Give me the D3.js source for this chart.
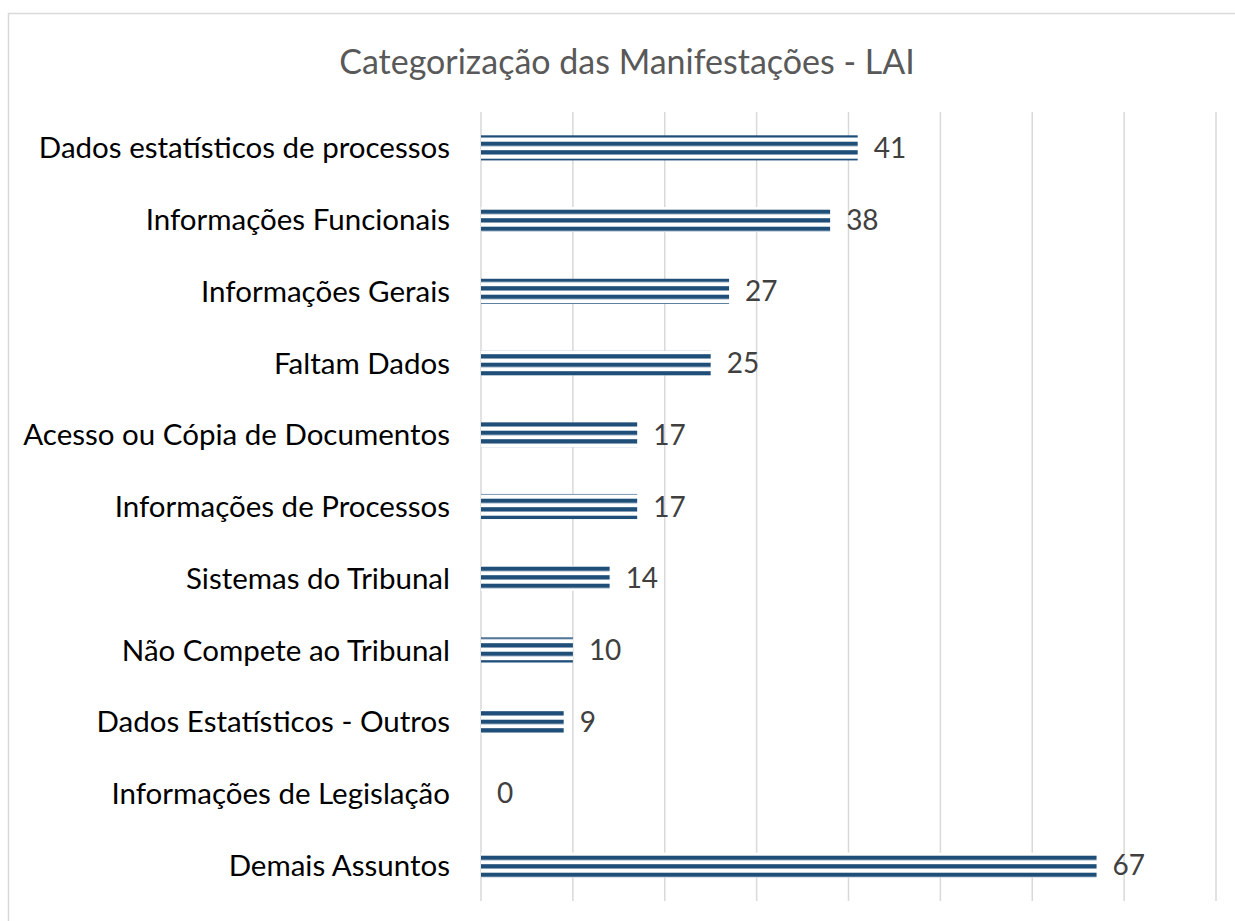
<!DOCTYPE html>
<html>
<head>
<meta charset="utf-8">
<script src="https://cdn.jsdelivr.net/npm/d3@7/dist/d3.min.js"></script>
<style>
  html, body { margin: 0; padding: 0; background: #fff; }
  svg { display: block; }
</style>
</head>
<body>
<script>
const title = "Categorização das Manifestações - LAI";
const categories = [
  "Dados estatísticos de processos",
  "Informações Funcionais",
  "Informações Gerais",
  "Faltam Dados",
  "Acesso ou Cópia de Documentos",
  "Informações de Processos",
  "Sistemas do Tribunal",
  "Não Compete ao Tribunal",
  "Dados Estatísticos - Outros",
  "Informações de Legislação",
  "Demais Assuntos"
];
const values = [41, 38, 27, 25, 17, 17, 14, 10, 9, 0, 67];
const xTicks = [0, 10, 20, 30, 40, 50, 60, 70, 80];

const W = 1235, H = 921;
const FONT = "Lato, 'Open Sans', sans-serif";
const svg = d3.select("body").append("svg").attr("width", W).attr("height", H);

// striped pattern
const defs = svg.append("defs");
const pat = defs.append("pattern")
  .attr("id", "stripes")
  .attr("patternUnits", "userSpaceOnUse")
  .attr("x", 0).attr("y", 141.7 % 8.5)
  .attr("width", 20).attr("height", 8.5);
pat.append("rect").attr("x", 0).attr("y", 0).attr("width", 20).attr("height", 8.5).attr("fill", "#ffffff");
pat.append("rect").attr("x", 0).attr("y", 0).attr("width", 20).attr("height", 4.3).attr("fill", "#1f4e79");

// chart border
svg.append("rect")
  .attr("x", 8.5).attr("y", 13.5)
  .attr("width", W + 20).attr("height", H + 20)
  .attr("fill", "#fff").attr("stroke", "#d9d9d9").attr("stroke-width", 1.5);

const x = d3.scaleLinear().domain([0, 80]).range([481, 1216]);
const y = d3.scaleBand().domain(categories).range([112, 901])
  .paddingInner(0.65).paddingOuter(0.325);

// gridlines
svg.append("g").selectAll("line").data(xTicks).join("line")
  .attr("x1", d => x(d)).attr("x2", d => x(d))
  .attr("y1", 112).attr("y2", 901)
  .attr("stroke", "#d9d9d9").attr("stroke-width", 1.5);

// bars
svg.append("g").selectAll("rect").data(values).join("rect")
  .attr("x", x(0))
  .attr("y", (d, i) => y(categories[i]))
  .attr("width", d => x(d) - x(0))
  .attr("height", y.bandwidth())
  .attr("fill", "url(#stripes)");

// value labels
svg.append("g").selectAll("text").data(values).join("text")
  .attr("x", d => x(d) + 16)
  .attr("y", (d, i) => y(categories[i]) + y.bandwidth() / 2)
  .attr("dy", "0.36em")
  .attr("font-family", FONT).attr("font-size", 28)
  .attr("fill", "#404040")
  .text(d => d);

// category labels
svg.append("g").selectAll("text").data(categories).join("text")
  .attr("x", x(0) - 31)
  .attr("y", d => y(d) + y.bandwidth() / 2)
  .attr("dy", "0.36em")
  .attr("text-anchor", "end")
  .attr("font-family", FONT).attr("font-size", 29.5)
  .attr("fill", "#000")
  .text(d => d);

// title
svg.append("text")
  .attr("x", 627).attr("y", 62)
  .attr("dy", "0.36em")
  .attr("text-anchor", "middle")
  .attr("font-family", FONT).attr("font-size", 34)
  .attr("fill", "#595959")
  .text(title);
</script>
</body>
</html>
